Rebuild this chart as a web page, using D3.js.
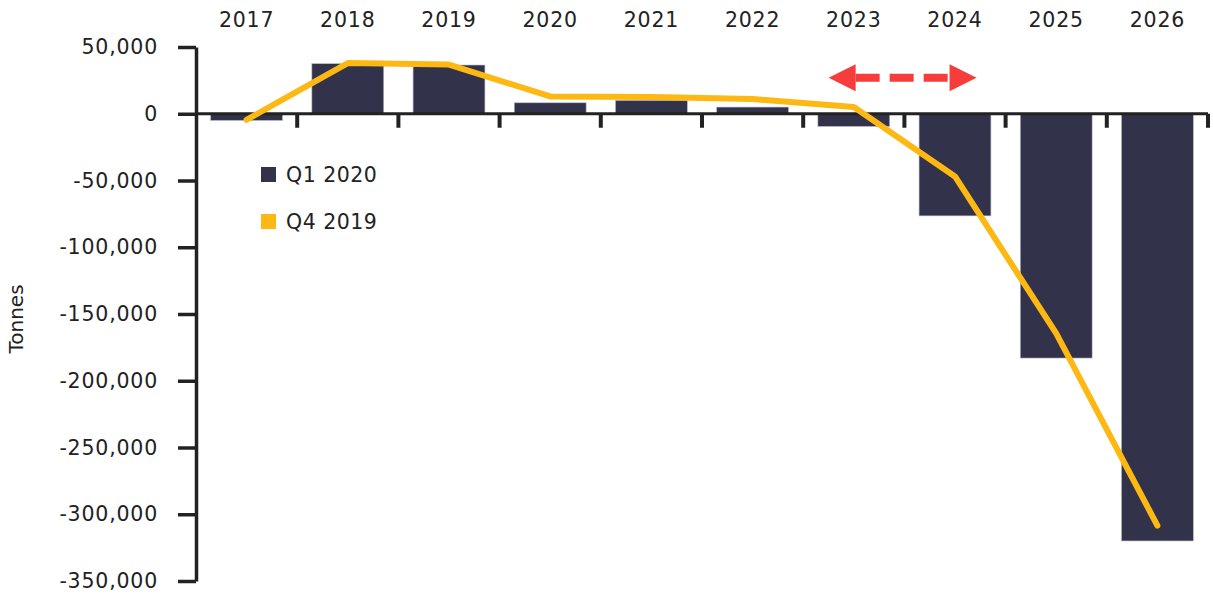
<!DOCTYPE html>
<html>
<head>
<meta charset="utf-8">
<script src="https://cdn.jsdelivr.net/npm/d3@7"></script>
<style>
  body { margin: 0; background: #fff; }
  text { font-family: "DejaVu Sans", sans-serif; fill: #222; }
</style>
</head>
<body>
<div id="container"></div>
<script>
/* DATA */
const years = ["2017", "2018", "2019", "2020", "2021", "2022", "2023", "2024", "2025", "2026"];
const q1_2020 = [-5000, 37500, 36500, 8200, 10000, 5000, -9500, -76500, -183000, -320000];
const q4_2019 = [-4500, 38000, 36800, 13000, 12500, 11000, 5000, -47000, -164500, -308500];
const yTicks = [50000, 0, -50000, -100000, -150000, -200000, -250000, -300000, -350000];
const seriesNames = ["Q1 2020", "Q4 2019"];

/* CONSTANTS */
const width = 1213,
  height = 594,
  margin = { top: 47, bottom: 13, left: 196, right: 5 };
const barColor = "#32324a",
  lineColor = "#fdb813",
  axisColor = "#222",
  arrowColor = "#f73c3c";

const svg = d3.select("#container")
  .append("svg")
  .attr("width", width)
  .attr("height", height);

/* SCALES */
const xScale = d3.scaleBand()
  .domain(years)
  .range([margin.left, width - margin.right])
  .paddingInner(0.29)
  .paddingOuter(0.145);

const yScale = d3.scaleLinear()
  .domain([-350000, 50000])
  .range([height - margin.bottom, margin.top]);

const step = xScale.step();
const y0 = yScale(0);
const fmt = d3.formatLocale({ decimal: ".", thousands: ",", grouping: [3], currency: ["", ""], minus: "-" }).format(",");

// bars
svg.append("g")
  .selectAll("rect")
  .data(years)
  .join("rect")
  .attr("x", d => xScale(d))
  .attr("width", xScale.bandwidth())
  .attr("y", (d, i) => yScale(Math.max(0, q1_2020[i])))
  .attr("height", (d, i) => Math.abs(yScale(q1_2020[i]) - y0))
  .attr("fill", barColor)
  .attr("stroke", "#b8b8c8")
  .attr("stroke-width", 0.6);

// y axis
const yAxis = d3.axisLeft(yScale)
  .tickValues(yTicks)
  .tickSize(18)
  .tickSizeOuter(0)
  .tickPadding(20)
  .tickFormat(fmt);
const gy = svg.append("g")
  .attr("transform", `translate(${margin.left}, 0)`)
  .call(yAxis);
gy.select(".domain").attr("stroke", axisColor).attr("stroke-width", 3.5);
gy.selectAll(".tick line").attr("stroke", axisColor).attr("stroke-width", 3.5);
gy.selectAll(".tick text")
  .attr("font-size", 20.5)
  .attr("letter-spacing", 0.8)
  .attr("fill", axisColor)
  .style("font-family", "DejaVu Sans, sans-serif");

// x axis along zero, ticks at band boundaries
const gx = svg.append("g");
gx.append("line")
  .attr("x1", margin.left)
  .attr("x2", width - margin.right)
  .attr("y1", y0)
  .attr("y2", y0)
  .attr("stroke", axisColor)
  .attr("stroke-width", 3);
gx.selectAll(".xt")
  .data(years)
  .join("line")
  .attr("class", "xt")
  .attr("x1", d => xScale(d) - xScale.paddingInner() * step / 2 + step)
  .attr("x2", d => xScale(d) - xScale.paddingInner() * step / 2 + step)
  .attr("y1", y0)
  .attr("y2", y0 + 14)
  .attr("stroke", axisColor)
  .attr("stroke-width", 4);

// year labels on top
const xAxisTop = d3.axisTop(xScale).tickSize(0).tickPadding(0);
const gt = svg.append("g")
  .attr("transform", "translate(0, 27)")
  .call(xAxisTop);
gt.select(".domain").remove();
gt.selectAll("text")
  .attr("font-size", 20.5)
  .attr("letter-spacing", 0.8)
  .attr("fill", axisColor)
  .style("font-family", "DejaVu Sans, sans-serif");

// Q4 2019 line
const line = d3.line()
  .x(d => xScale(d[0]) + xScale.bandwidth() / 2)
  .y(d => yScale(d[1]));
svg.append("path")
  .datum(years.map((y, i) => [y, q4_2019[i]]))
  .attr("d", line)
  .attr("fill", "none")
  .attr("stroke", lineColor)
  .attr("stroke-width", 6)
  .attr("stroke-linejoin", "round")
  .attr("stroke-linecap", "round");

// y label
svg.append("text")
  .attr("transform", `translate(23, 319) rotate(-90)`)
  .attr("text-anchor", "middle")
  .attr("font-size", 20)
  .text("Tonnes");

// legend
const legend = svg.append("g").attr("transform", "translate(261, 167)");
seriesNames.forEach((name, i) => {
  const g = legend.append("g").attr("transform", `translate(0, ${i * 47})`);
  g.append("rect")
    .attr("width", 15)
    .attr("height", 15)
    .attr("fill", i === 0 ? barColor : lineColor);
  g.append("text")
    .attr("x", 25)
    .attr("y", 15)
    .attr("font-size", 20.5)
    .attr("letter-spacing", 0.5)
    .text(name);
});

// dashed double arrow between 2023 and 2024
const ay = yScale(27000),
  ax1 = xScale("2023") + xScale.bandwidth() * 0.15,
  ax2 = xScale("2024") + xScale.bandwidth() * 0.8,
  head = 27;
svg.append("line")
  .attr("x1", ax1 + head)
  .attr("x2", ax2 - head)
  .attr("y1", ay)
  .attr("y2", ay)
  .attr("stroke", arrowColor)
  .attr("stroke-width", 8)
  .attr("stroke-dasharray", "24,10");
svg.append("path")
  .attr("d", `M${ax1},${ay} L${ax1 + head},${ay - 13.5} L${ax1 + head},${ay + 13.5} Z`)
  .attr("fill", arrowColor);
svg.append("path")
  .attr("d", `M${ax2},${ay} L${ax2 - head},${ay - 13.5} L${ax2 - head},${ay + 13.5} Z`)
  .attr("fill", arrowColor);
</script>
</body>
</html>
